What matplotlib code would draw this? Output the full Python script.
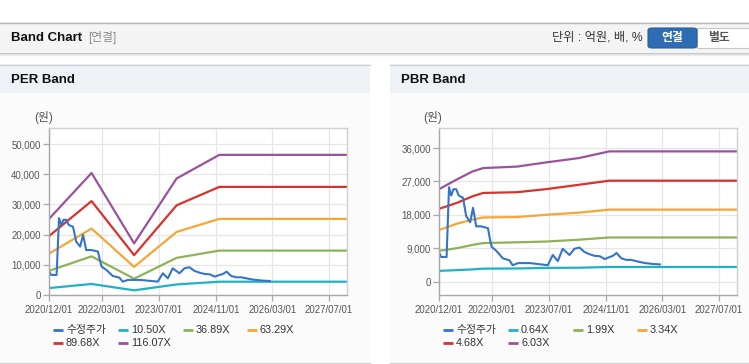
import numpy as np
import pandas as pd
import matplotlib
matplotlib.use("Agg")
import matplotlib.pyplot as plt
import matplotlib.dates as mdates
from matplotlib.patches import Rectangle, FancyBboxPatch
from matplotlib.lines import Line2D

plt.rcParams['font.family'] = ['Liberation Sans', 'Noto Sans CJK KR', 'DejaVu Sans']

# ---------------- data ----------------
price_dates = ['2020-12-01', '2020-12-20', '2021-02-04', '2021-02-25', '2021-03-16', '2021-04-04',
               '2021-04-28', '2021-05-19', '2021-06-25', '2021-07-22', '2021-08-25', '2021-09-19',
               '2021-10-16', '2021-11-28', '2022-01-25', '2022-02-10', '2022-02-25', '2022-04-07',
               '2022-06-01', '2022-07-28', '2022-08-25', '2022-10-10', '2023-01-20', '2023-04-13',
               '2023-06-22', '2023-08-04', '2023-09-16', '2023-10-28', '2023-12-25', '2024-02-06',
               '2024-03-20', '2024-05-01', '2024-06-13', '2024-07-28', '2024-09-10', '2024-10-22',
               '2024-12-04', '2025-01-01', '2025-02-01', '2025-03-13', '2025-04-25', '2025-06-07',
               '2025-07-19', '2025-09-01', '2025-10-13', '2025-12-10', '2026-02-07']
price_vals = [7900, 6640, 6640, 25450, 23200, 24900,
              24900, 23200, 22600, 17700, 16000, 19900,
              14900, 14900, 14400, 11600, 9400, 8300,
              6300, 5750, 4420, 5000, 5000, 4700,
              4420, 7190, 5530, 8850, 7190, 8850,
              9180, 8000, 7400, 6960, 6850, 6080,
              6640, 6960, 7740, 6300, 5860, 5860,
              5530, 5200, 4980, 4760, 4650]

per_dates = ['2020-12-01', '2021-12-01', '2022-12-01', '2023-12-01', '2024-12-01', '2027-12-01']
per_labels = ['10.50X', '36.89X', '63.29X', '89.68X', '116.07X']
per_1050 = [2300, 3650, 1550, 3500, 4400, 4400]
per_3689 = [8000, 12800, 5400, 12300, 14700, 14700]
per_6329 = [13700, 22000, 9300, 20900, 25200, 25200]
per_8968 = [19500, 31100, 13200, 29700, 35800, 35800]
per_11607 = [25200, 40400, 17100, 38600, 46400, 46400]

pbr_dates = ['2020-12-01', '2021-05-01', '2021-09-15', '2021-12-15', '2022-10-01',
             '2023-06-01', '2024-03-15', '2024-12-01', '2027-12-01']
pbr_labels = ['0.64X', '1.99X', '3.34X', '4.68X', '6.03X']
pbr_064 = [2900, 3100, 3300, 3500, 3550, 3700, 3750, 3950, 3950]
pbr_199 = [8300, 9000, 9900, 10400, 10600, 10800, 11300, 11900, 11900]
pbr_334 = [13900, 15600, 16700, 17300, 17400, 18000, 18600, 19400, 19400]
pbr_468 = [19600, 21200, 23000, 23900, 24100, 24900, 26100, 27200, 27200]
pbr_603 = [24900, 27500, 29700, 30600, 31000, 32100, 33300, 35100, 35100]

xtick_labels = ['2020/12/01', '2022/03/01', '2023/07/01', '2024/11/01', '2026/03/01', '2027/07/01']
per_yticks = [0, 10000, 20000, 30000, 40000, 50000]
pbr_yticks = [0, 9000, 18000, 27000, 36000]

price_label = '수정주가'
band_colors = ['#1fb1c4', '#8db356', '#f4a737', '#d8322b', '#9a529c']
price_color = '#3574c8'

# ---------------- figure ----------------
W, H = 749, 364
fig = plt.figure(figsize=(W / 100, H / 100), dpi=100)
fig.patch.set_facecolor('white')


def fx(x):
    return x / W


def fy(y):
    return 1 - y / H


def rect(x0, y0, x1, y1, **kw):
    r = Rectangle((fx(x0), fy(y1)), fx(x1) - fx(x0), fy(y0) - fy(y1), transform=fig.transFigure,
                  zorder=-5, **kw)
    fig.add_artist(r)
    return r


def hline(x0, x1, y, color, lw=1.0):
    fig.add_artist(Line2D([fx(x0), fx(x1)], [fy(y), fy(y)], transform=fig.transFigure, color=color, lw=lw,
                          zorder=-4))


# header bar
rect(0, 22, W, 52, facecolor='#f4f4f4', edgecolor='none')
hline(0, W, 22.5, '#b8b8b8')
hline(0, W, 52.5, '#c4c4c4')
hline(0, W, 53.5, '#dcdcdc')
hline(0, W, 54.5, '#ececec')
fig.text(fx(11), fy(38), 'Band Chart', fontsize=9.5, fontweight='bold', color='#111', va='center', ha='left')
fig.text(fx(88), fy(38), '[연결]', fontsize=8.5, color='#8a8a8a', va='center', ha='left')
fig.text(fx(643), fy(38), '단위 : 억원, 배, %', fontsize=8.8, color='#333', va='center', ha='right')
b1 = FancyBboxPatch((fx(648), fy(48)), fx(697) - fx(648), fy(28) - fy(48),
                    boxstyle='round,pad=0,rounding_size=0.006', transform=fig.transFigure,
                    facecolor='#2e6db3', edgecolor='#2a5f9e', lw=0.8, zorder=-3)
fig.add_artist(b1)
fig.text(fx(672.5), fy(38), '연결', fontsize=8.5, fontweight='bold', color='white', va='center', ha='center')
rect(697, 28, 752, 48, facecolor='white', edgecolor='#c8c8c8', lw=0.8)
fig.text(fx(719), fy(38), '별도', fontsize=8.5, fontweight='bold', color='#555', va='center', ha='center')

# panels
for (px0, px1, title) in [(0, 370, 'PER Band'), (390, 749, 'PBR Band')]:
    rect(px0, 93, px1, 362, facecolor='#fbfbfb', edgecolor='none')
    rect(px0, 64, px1, 93, facecolor='#eef2f7', edgecolor='none')
    hline(px0, px1, 64.5, '#d2d2d2')
    hline(px0, px1, 362.5, '#d2d2d2')
    fig.text(fx(px0 + 11), fy(80), title, fontsize=9.5, fontweight='bold', color='#111', va='center', ha='left')


def make_axes(left, right, top, bottom):
    ax = fig.add_axes([fx(left), fy(bottom), fx(right) - fx(left), fy(top) - fy(bottom)])
    ax.set_zorder(5)
    return ax


xticks = [pd.Timestamp(s.replace('/', '-')) for s in xtick_labels]


def style(ax, yticks, ylim):
    ax.set_facecolor('white')
    ax.set_xlim(pd.Timestamp('2020-12-01'), pd.Timestamp('2027-12-01'))
    ax.set_ylim(*ylim)
    ax.set_xticks(xticks)
    ax.set_xticklabels(xtick_labels)
    ax.set_yticks(yticks)
    ax.set_yticklabels([f'{v:,}' for v in yticks])
    ax.grid(True, color='#e6e6e6', lw=0.9)
    ax.set_axisbelow(True)
    for s in ['top', 'right']:
        ax.spines[s].set_color('#d0d0d0')
    for s in ['left', 'bottom']:
        ax.spines[s].set_color('#a8a8a8')
    for s in ax.spines.values():
        s.set_linewidth(1.0)
    ax.tick_params(axis='both', labelsize=6.9, colors='#a8a8a8', labelcolor='#555', length=4, width=0.9)
    ax.tick_params(axis='x', pad=3)
    ax.tick_params(axis='y', pad=2)


def draw_legend(x0, labels):
    # row 1: price + first three bands, row 2: remaining two
    items = [(price_label, price_color)] + list(zip(labels, band_colors))
    col_x = [x0, x0 + 65, x0 + 130, x0 + 194]
    for i, (lab, col) in enumerate(items):
        row = 0 if i < 4 else 1
        cx = col_x[i if i < 4 else i - 4]
        y = 330 if row == 0 else 343
        fig.add_artist(Line2D([fx(cx), fx(cx + 10)], [fy(y), fy(y)], transform=fig.transFigure,
                              color=col, lw=2.0, solid_capstyle='butt'))
        fig.text(fx(cx + 13), fy(y), lab, fontsize=7.8, color='#333', va='center', ha='left')


pdates = pd.to_datetime(price_dates)

# PER
ax1 = make_axes(49, 347, 128, 295)
style(ax1, per_yticks, (0, 55300))
for vals, col in zip([per_1050, per_3689, per_6329, per_8968, per_11607], band_colors):
    ax1.plot(pd.to_datetime(per_dates), vals, color=col, lw=1.6)
ax1.plot(pdates, price_vals, color=price_color, lw=1.5)
fig.text(fx(44), fy(117), '(원)', fontsize=8.5, color='#555', va='center', ha='center')
draw_legend(53, per_labels)

# PBR
ax2 = make_axes(439, 737, 128, 295)
style(ax2, pbr_yticks, (-3600, 41400))
for vals, col in zip([pbr_064, pbr_199, pbr_334, pbr_468, pbr_603], band_colors):
    ax2.plot(pd.to_datetime(pbr_dates), vals, color=col, lw=1.6)
ax2.plot(pdates, price_vals, color=price_color, lw=1.5)
fig.text(fx(433), fy(117), '(원)', fontsize=8.5, color='#555', va='center', ha='center')
draw_legend(443, pbr_labels)

fig.savefig('out.png', dpi=100, facecolor='white')
